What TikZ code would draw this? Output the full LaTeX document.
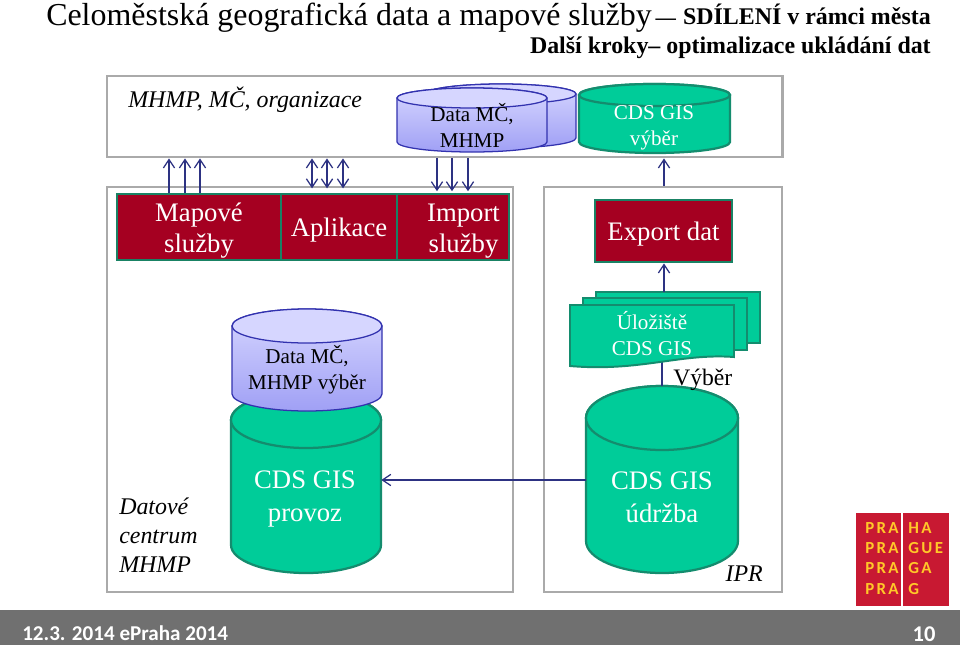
\documentclass[tikz,border=0pt]{standalone}
\usepackage{fontspec}
\setmainfont{Liberation Serif}
\newfontfamily\footfont{Carlito}
\newfontfamily\logofont[LetterSpace=14]{Carlito}
\usetikzlibrary{arrows.meta}
\definecolor{framegray}{RGB}{170,170,170}
\definecolor{prahared}{RGB}{165,0,33}
\definecolor{cdsgreen}{RGB}{0,204,153}
\definecolor{cdsline}{RGB}{20,140,110}
\definecolor{boxline}{RGB}{25,130,100}
\definecolor{dataline}{RGB}{50,50,175}
\definecolor{datatop}{RGB}{214,214,255}
\definecolor{databot}{RGB}{160,160,245}
\definecolor{flowblue}{RGB}{45,50,130}
\definecolor{footgray}{RGB}{112,112,112}
\definecolor{logored}{RGB}{200,25,50}
\definecolor{logoyellow}{RGB}{255,200,40}
\tikzset{
    frame/.style={draw=framegray, line width=2pt, fill=white, inner sep=0pt},
    redbox/.style={draw=boxline, line width=2pt, fill=prahared, inner sep=0pt},
    redtext/.style={text=white, inner sep=0pt, align=center, font=\fontsize{19}{22}\selectfont},
    greendrum/.style={draw=cdsline, line width=1.6pt, fill=cdsgreen},
    datadrum/.style={draw=dataline, line width=0.9pt, top color=datatop, bottom color=databot},
    dataface/.style={draw=dataline, line width=0.9pt, fill=datatop},
    paper/.style={draw=cdsline, line width=1.4pt, fill=cdsgreen},
    flow/.style={draw=flowblue, line width=0.9pt, arrows={-Straight Barb[length=6pt,width=8pt]}},
    label/.style={align=center, font=\fontsize{15}{18.5}\selectfont},
    biglabel/.style={align=center, font=\fontsize{19}{23.5}\selectfont, text=white},
    note/.style={align=left, font=\fontsize{17}{20.5}\selectfont\itshape},
    logorow/.style={anchor=west, text=logoyellow, inner sep=0pt, font=\logofont\bfseries\fontsize{12}{12}\selectfont}
}
% name, left, right, top, bottom, cap height, body style, face style
\newcommand{\drum}[8]{
    \pgfmathsetmacro{\drumrx}{(#3-#2)/2}
    \pgfmathsetmacro{\drumcx}{(#3+#2)/2}
    \pgfmathsetmacro{\drumcy}{#4+#6}
    \pgfmathsetmacro{\drumlow}{#5-#6}
    \pgfmathsetmacro{\drummid}{(#4+#5)/2}
    \path[#7] (#2,\drumcy) arc[start angle=180, end angle=360, x radius=\drumrx, y radius=#6]
        -- (#3,\drumlow) arc[start angle=0, end angle=180, x radius=\drumrx, y radius=#6] -- cycle;
    \path[#8] (\drumcx,\drumcy) ellipse[x radius=\drumrx, y radius=#6];
    \node[minimum width={(#3-#2)*0.025cm}, minimum height={(#5-#4)*0.025cm}, inner sep=0pt] (#1) at (\drumcx,\drummid) {};
}

\begin{document}
\begin{tikzpicture}[x=0.025cm, y=-0.025cm]
    \useasboundingbox (0,0) rectangle (960,645);
    \fill[white] (0,0) rectangle (960,645);

    % heading
    \node[anchor=base west, inner sep=0pt, font=\fontsize{22.7}{26}\selectfont] (title) at (46,25) {Celoměstská geografická data a mapové služby};
    \node[anchor=base east, inner sep=0pt, font=\bfseries\fontsize{17}{20}\selectfont] (titleend) at (931,24) {{\fontsize{14.5}{18}\selectfont ---}\hspace{5pt}SDÍLENÍ v rámci města};
    \node[anchor=base east, inner sep=0pt, font=\bfseries\fontsize{17}{20}\selectfont] (subtitle) at (931,53) {Další kroky-- optimalizace ukládání dat};

    % frames
    \node[frame, minimum width=16.875cm, minimum height=2.025cm] (topframe) at (444.5,116.5) {};
    \node[frame, minimum width=10.15cm, minimum height=10.125cm] (leftframe) at (310,389.5) {};
    \node[frame, minimum width=5.95cm, minimum height=10.125cm] (rightframe) at (663,389.5) {};
    \node[note, anchor=base west, inner sep=0pt] (owners) at (128,107) {MHMP, MČ, organizace};

    % top row
    \drum{backdata}{426}{576}{84}{148}{10}{datadrum}{dataface}
    \drum{frontdata}{397}{547}{88}{152}{10}{datadrum}{dataface}
    \node[label] (frontdatatext) at (472,125) {Data MČ,\\MHMP};
    \drum{cdsvyber}{579}{730}{84}{153}{11}{greendrum}{greendrum}
    \node[label, text=white] (cdsvybertext) at (654,127.5) {CDS GIS\\výběr};

    % service boxes
    \node[redbox, minimum width=4.1cm, minimum height=1.65cm] (mapove) at (199,227) {};
    \node[redtext] (mapovetext) at (199,230.5) {Mapové\\služby};
    \node[redbox, minimum width=2.9cm, minimum height=1.65cm] (aplikace) at (339,227) {};
    \node[redtext] (aplikacetext) at (339,230) {Aplikace};
    \node[redbox, minimum width=2.8cm, minimum height=1.65cm] (import) at (453,227) {};
    \node[redtext] (importtext) at (463.5,231) {Import\\služby};
    \node[redbox, minimum width=3.425cm, minimum height=1.55cm] (export) at (663.5,231) {};
    \node[redtext] (exporttext) at (663.5,234) {Export dat};

    % arrows between frames
    \foreach \i in {169,185,200} {
        \coordinate (tick) at (\i,0);
        \draw[flow] (tick |- mapove.north) -- (tick |- topframe.south);
    }
    \foreach \i in {312,327,343} {
        \coordinate (tick) at (\i,0);
        \draw[flow, arrows={Straight Barb[length=6pt,width=8pt]-Straight Barb[length=6pt,width=8pt]}, shorten <=3pt] (tick |- aplikace.north) -- (tick |- topframe.south);
    }
    \foreach \i in {437,452,468} {
        \coordinate (tick) at (\i,0);
        \draw[flow, shorten >=1pt] (tick |- topframe.south) -- (tick |- import.north);
    }
    \coordinate (exporttick) at (664,0);
    \draw[flow] (exporttick |- rightframe.north) -- (exporttick |- topframe.south);

    % lower left
    \drum{provoz}{231}{381}{392}{573}{28}{greendrum}{greendrum}
    \node[biglabel] (provoztext) at (305,499) {CDS GIS\\provoz};
    \drum{datavyber}{232}{382}{309}{411}{17}{datadrum}{dataface}
    \node[label] (datavybertext) at (307,370) {Data MČ,\\MHMP výběr};
    \node[note, anchor=north west, inner sep=0pt] (centrum) at (119,498) {Datové\\centrum\\MHMP};

    % lower right
    \drum{udrzba}{586}{738}{386}{573}{32}{greendrum}{greendrum}
    \node[biglabel] (udrzbatext) at (662,497) {CDS GIS\\údržba};
    \coordinate (linktick) at (0,480);
    \draw[flow] (udrzba.west |- linktick) -- (provoz.east |- linktick);
    \node[note, anchor=base east, inner sep=0pt] (ipr) at (763,581) {IPR};

    % stacked documents
    \filldraw[paper] (596,292) rectangle (760,343);
    \filldraw[paper] (583,298) rectangle (747,350);
    \coordinate (vybertick) at (662,0);
    \draw[flow, arrows={-}] (vybertick |- udrzba.north) -- (vybertick |- 0,360);
    \filldraw[paper] (570,305) -- (734,305) -- (734,357) .. controls (680,353) and (640,372) .. (570,366) -- cycle;
    \node[label, text=white, minimum width=4.1cm, minimum height=1.55cm, inner sep=0pt] (uloziste) at (652,334) {Úložiště\\CDS GIS};
    \coordinate (stacktop) at (0,292);
    \draw[flow] (exporttick |- stacktop) -- (exporttick |- export.south);
    \node[anchor=base west, inner sep=0pt, font=\fontsize{16.8}{20}\selectfont] (vyber) at (673,385) {Výběr};

    % logo
    \fill[logored] (856,513) rectangle (901,606);
    \fill[logored] (903,513) rectangle (949,606);
    \node[logorow] (logoa) at (865,528) {PRA};
    \node[logorow] (logob) at (865,548) {PRA};
    \node[logorow] (logoc) at (865,568) {PRA};
    \node[logorow] (logod) at (865,589) {PRA};
    \node[logorow] (logoe) at (908,528) {HA};
    \node[logorow] (logof) at (908,548) {GUE};
    \node[logorow] (logog) at (908,568) {GA};
    \node[logorow] (logoh) at (908,589) {G};

    % footer
    \fill[footgray] (0,610) rectangle (960,645);
    \node[anchor=base west, inner sep=0pt, text=white, font=\footfont\bfseries\fontsize{15}{18}\selectfont] (footdate) at (22,640) {12.3. 2014 ePraha 2014};
    \node[anchor=base, inner sep=0pt, text=white, font=\footfont\bfseries\fontsize{16}{18}\selectfont] (footpage) at (924,641) {10};
\end{tikzpicture}
\end{document}
